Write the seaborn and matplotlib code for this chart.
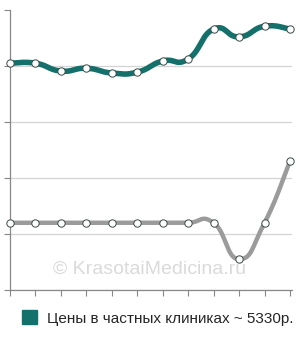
import numpy as np
import pandas as pd
import seaborn as sns
from matplotlib import pyplot as plt
from matplotlib.patches import Patch

# values (scale 0..5, no labels shown)
points = list(range(12))
private_prices = [4.05, 4.05, 3.91, 3.96, 3.875, 3.89, 4.09, 4.125, 4.66, 4.52, 4.71, 4.66]
other_prices = [1.2, 1.2, 1.2, 1.2, 1.2, 1.2, 1.2, 1.2, 1.2, 0.55, 1.2, 2.3]
legend_label = 'Цены в частных клиниках ~ 5330р.'

teal = '#13706a'
grey = '#9b9b9b'


def smooth(x, y, k=0.25, n=20):
    # cubic bezier through the points (cardinal-style curve), for drawing only
    x = np.asarray(x, float)
    y = np.asarray(y, float)
    px = np.concatenate([[x[0]], x, [x[-1]]])
    py = np.concatenate([[y[0]], y, [y[-1]]])
    xs, ys = [], []
    t = np.linspace(0, 1, n)
    for i in range(1, len(px) - 2):
        x0, y0 = px[i], py[i]
        x3, y3 = px[i + 1], py[i + 1]
        x1 = x0 + (px[i + 1] - px[i - 1]) * k
        y1 = y0 + (py[i + 1] - py[i - 1]) * k
        x2 = x3 - (px[i + 2] - px[i]) * k
        y2 = y3 - (py[i + 2] - py[i]) * k
        b0, b1, b2, b3 = (1 - t) ** 3, 3 * t * (1 - t) ** 2, 3 * t ** 2 * (1 - t), t ** 3
        xs.append(b0 * x0 + b1 * x1 + b2 * x2 + b3 * x3)
        ys.append(b0 * y0 + b1 * y1 + b2 * y2 + b3 * y3)
    return np.concatenate(xs), np.concatenate(ys)


sns.set_style('white')
plt.rcParams['font.family'] = ['Liberation Sans', 'DejaVu Sans']

df = pd.DataFrame({'point': points, 'private': private_prices, 'other': other_prices})

fig = plt.figure(figsize=(3, 3.4), dpi=100)
ax = fig.add_axes([10 / 300, 50 / 340, 282 / 300, 280 / 340])

fig.text(150 / 300, 1 - 269 / 340, '© KrasotaiMedicina.ru', ha='center', va='center',
         fontsize=14, color='#dadada', zorder=0)

sx, sy = smooth(df['point'], df['other'])
ax.plot(sx, sy, color=grey, lw=3.2, solid_capstyle='round', zorder=2)
sx, sy = smooth(df['point'], df['private'])
ax.plot(sx, sy, color=teal, lw=4, solid_capstyle='round', zorder=3)

for col in ['other', 'private']:
    sns.scatterplot(data=df, x='point', y=col, ax=ax, s=28, color='white',
                    edgecolor='#3a4a48', linewidth=0.7, zorder=4, clip_on=False)

ax.set_xlim(0, 11 * 282 / 280)
ax.set_ylim(0, 5)
ax.set_xticks(points)
ax.set_yticks([0, 1, 2, 3, 4, 5])
ax.set_xticklabels([])
ax.set_yticklabels([])
ax.set_xlabel('')
ax.set_ylabel('')
ax.grid(axis='y', color='#d4d4d4', lw=0.9)
ax.yaxis.get_gridlines()[-1].set_visible(False)
ax.tick_params(axis='both', length=4, width=0.8, color='#888888', direction='out',
               left=True, bottom=True)
for side in ['top', 'right']:
    ax.spines[side].set_visible(False)
for side in ['left', 'bottom']:
    ax.spines[side].set_color('#888888')
    ax.spines[side].set_linewidth(0.9)

fig.legend(handles=[Patch(facecolor=teal, edgecolor=teal, label=legend_label)],
           loc='center left', bbox_to_anchor=(16 / 300, 22 / 340), frameon=False,
           fontsize=11, handlelength=1.0, handleheight=1.0, handletextpad=0.6,
           borderaxespad=0)

fig.savefig('out.png', dpi=100, facecolor='white')
